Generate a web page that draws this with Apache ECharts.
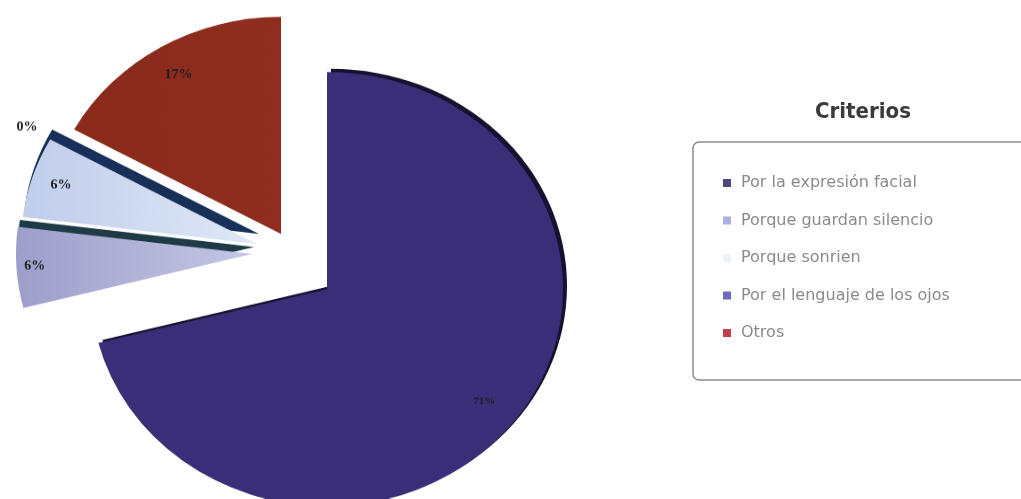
<!DOCTYPE html>
<html>
<head>
<meta charset="utf-8">
<script src="https://cdn.jsdelivr.net/npm/echarts@6/dist/echarts.min.js"></script>
<style>
  html, body { margin: 0; padding: 0; background: #ffffff; }
  #wrap { position: relative; width: 1021px; height: 499px; overflow: hidden; }
  /* the pie is viewed slightly from above, so its layer is squashed vertically */
  #pie { position: absolute; left: 0; top: 0; width: 1021px; transform-origin: 0 0; }
  #legend { position: absolute; left: 0; top: 0; width: 1021px; height: 499px; }
</style>
</head>
<body>
<div id="wrap">
  <div id="pie"></div>
  <div id="legend"></div>
</div>
<script>
// Categories and their shares (percent)
const categories = [
  'Por la expresión facial',
  'Porque guardan silencio',
  'Porque sonrien',
  'Por el lenguaje de los ojos',
  'Otros'
];
const values = [71, 6, 6, 0, 17];
const legendTitle = 'Criterios';

// Slice colours: top face (outer rim -> point), extruded side, legend swatch
const faceColors   = [['#3a2e78', '#3a2e78'], ['#9d9ecb', '#c4c7e4'], ['#c0cdeb', '#e0e8f7'], ['#6d6bc0', '#6d6bc0'], ['#8a2a1b', '#8f2e20']];
const sideColors   = ['#15112e', '#1e3a47', '#163059', null, null];
const swatchColors = ['#4d4b7e', '#aab0e0', '#eef1f8', '#6d6bc0', '#c2404c'];

// Tilt of the pie (vertical squash) and its radius
const tilt = 0.92;
const R = 236;

// Exploded layout (screen px): point of each slice, offset of its side wall,
// label ring as a fraction of the radius
const layout = [
  { center: [327, 289], side: [4, -3],  label: [0.70, 0.96], font: { size: 11, weight: 'bold' } },
  { center: [252, 254], side: [2, -7],  label: [0.84, 0.98], font: { size: 14, weight: 'bold' } },
  { center: [257, 244], side: [2, -10], label: [0.78, 0.94], font: { size: 14, weight: 'bold' } },
  { center: [257, 244], side: null,     label: [1.04, 1.16], font: { size: 14, weight: 'bold' } },
  { center: [281, 234], side: null,     label: [0.74, 0.94], font: { size: 14, weight: 'bold' } }
];

const pieEl = document.getElementById('pie');
pieEl.style.height = (499 / tilt) + 'px';
pieEl.style.transform = 'scaleY(' + tilt + ')';

function faceFill(i) {
  const c = faceColors[i];
  // light toward the slice point (right side of the left-hand slices)
  return new echarts.graphic.LinearGradient(0, 0, 1, 0, [
    { offset: 0, color: c[0] },
    { offset: 1, color: c[1] }
  ]);
}

function sliceSeries(i, kind) {
  const L = layout[i];
  let cx = L.center[0], cy = L.center[1];
  let radius = [0, R];
  let color = faceFill(i);
  let z = 2;
  if (kind === 'side') {
    cx += L.side[0];
    cy += L.side[1];
    color = sideColors[i];
    z = 1;
  } else if (kind === 'label') {
    radius = [L.label[0] * R, L.label[1] * R];
    color = 'transparent';
    z = 3;
  }
  return {
    type: 'pie',
    name: kind + '-' + i,
    center: [cx, cy / tilt],
    radius: radius,
    startAngle: 90,
    clockwise: true,
    z: z,
    silent: true,
    animation: false,
    avoidLabelOverlap: false,
    percentPrecision: 0,
    stillShowZeroSum: true,
    labelLine: { show: false },
    emphasis: { disabled: true },
    data: categories.map((name, j) => ({
      name: name,
      value: values[j],
      itemStyle: { color: j === i ? color : 'transparent', borderWidth: 0 },
      label: {
        show: kind === 'label' && j === i,
        position: 'inside',
        formatter: '{d}%',
        fontFamily: '"Liberation Serif", "DejaVu Serif", serif',
        fontSize: L.font.size,
        fontWeight: L.font.weight,
        color: '#1e1e1e'
      }
    }))
  };
}

const series = [];
categories.forEach((_, i) => { if (sideColors[i]) series.push(sliceSeries(i, 'side')); });
categories.forEach((_, i) => { if (values[i] > 0) series.push(sliceSeries(i, 'face')); });
categories.forEach((_, i) => series.push(sliceSeries(i, 'label')));

const pieChart = echarts.init(pieEl, null, { renderer: 'canvas' });
pieChart.setOption({
  backgroundColor: '#ffffff',
  animation: false,
  series: series
});

// Legend panel with its heading
const legendChart = echarts.init(document.getElementById('legend'), null, { renderer: 'canvas' });
legendChart.setOption({
  backgroundColor: 'transparent',
  animation: false,
  title: {
    text: legendTitle,
    left: 863,
    top: 98,
    textAlign: 'center',
    padding: 0,
    textStyle: {
      fontFamily: '"Liberation Sans Narrow", "DejaVu Sans Condensed", sans-serif',
      fontWeight: 'bold',
      fontSize: 22,
      lineHeight: 28,
      color: '#3a3a3a'
    }
  },
  legend: {
    orient: 'vertical',
    left: 693,
    top: 142,
    padding: [31, 90, 37, 30],
    itemGap: 17.5,
    itemWidth: 8,
    itemHeight: 8,
    icon: 'rect',
    selectedMode: false,
    borderColor: '#8c8c8c',
    borderWidth: 1.5,
    borderRadius: 6,
    textStyle: {
      fontFamily: '"DejaVu Sans", sans-serif',
      fontSize: 16,
      lineHeight: 20,
      color: '#8a8a8a',
      padding: [0, 0, 0, 5]
    },
    data: categories.map((name, i) => ({ name: name, itemStyle: { color: swatchColors[i] } }))
  },
  // carries the category names for the legend; the slices themselves are in the pie layer
  series: [{
    type: 'pie',
    silent: true,
    radius: [0, 0],
    center: [-50, -50],
    label: { show: false },
    labelLine: { show: false },
    data: categories.map((name, i) => ({ name: name, value: values[i] }))
  }]
});
</script>
</body>
</html>
